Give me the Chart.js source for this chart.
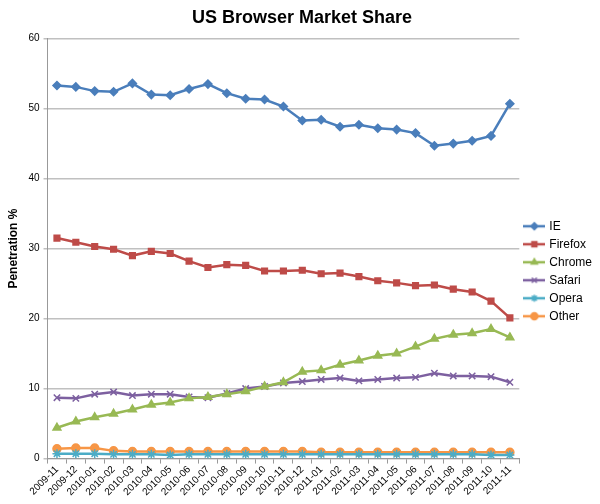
<!DOCTYPE html>
<html>
<head>
<meta charset="utf-8">
<script src="https://cdn.jsdelivr.net/npm/chart.js@4"></script>
<style>
  html, body { margin: 0; padding: 0; background: #fff; }
  #wrap { width: 600px; height: 504px; }
</style>
</head>
<body>
<div id="wrap"><canvas id="browserChart" width="600" height="504"></canvas></div>
<script>
// month labels
const months = ['2009-11', '2009-12', '2010-01', '2010-02', '2010-03', '2010-04', '2010-05', '2010-06',
    '2010-07', '2010-08', '2010-09', '2010-10', '2010-11', '2010-12', '2011-01', '2011-02', '2011-03',
    '2011-04', '2011-05', '2011-06', '2011-07', '2011-08', '2011-09', '2011-10', '2011-11'];

// share per browser (%)
const ieData = [53.3, 53.1, 52.5, 52.4, 53.6, 52.0, 51.9, 52.8, 53.5, 52.2, 51.4, 51.3, 50.3,
    48.3, 48.4, 47.4, 47.7, 47.2, 47.0, 46.5, 44.7, 45.0, 45.4, 46.1, 50.7];
const firefoxData = [31.5, 30.9, 30.3, 29.9, 29.0, 29.6, 29.3, 28.2, 27.3, 27.7, 27.6, 26.8, 26.8,
    26.9, 26.4, 26.5, 26.0, 25.4, 25.1, 24.7, 24.8, 24.2, 23.8, 22.5, 20.1];
const chromeData = [4.4, 5.3, 5.9, 6.4, 7.0, 7.7, 8.0, 8.6, 8.8, 9.2, 9.6, 10.3, 10.9,
    12.4, 12.6, 13.4, 14.0, 14.7, 15.0, 16.0, 17.1, 17.7, 17.9, 18.5, 17.3];
const safariData = [8.7, 8.6, 9.2, 9.5, 9.0, 9.2, 9.2, 8.8, 8.7, 9.3, 10.0, 10.3, 10.8,
    11.0, 11.3, 11.5, 11.1, 11.3, 11.5, 11.6, 12.2, 11.8, 11.8, 11.7, 10.9];
const operaData = [0.7, 0.7, 0.7, 0.6, 0.6, 0.6, 0.5, 0.6, 0.6, 0.6, 0.6, 0.6, 0.6,
    0.6, 0.6, 0.6, 0.6, 0.6, 0.6, 0.6, 0.6, 0.6, 0.6, 0.5, 0.5];
const otherData = [1.4, 1.5, 1.5, 1.1, 1.0, 1.0, 1.0, 1.0, 1.0, 1.0, 1.0, 1.0, 1.0,
    1.0, 0.9, 0.9, 0.9, 0.9, 0.9, 0.9, 0.9, 0.9, 0.9, 0.9, 0.9];

const yTicks = [0, 10, 20, 30, 40, 50, 60];

function series(label, data, color, style, radius) {
    return {
        label: label,
        data: data,
        borderColor: color,
        backgroundColor: color,
        pointBackgroundColor: color,
        pointBorderColor: color,
        pointStyle: style,
        pointRadius: radius,
        pointBorderWidth: 1.5,
        borderWidth: 2.5,
        fill: false,
        tension: 0
    };
}

// little line-with-marker images for the legend
function legendIcon(color, style, radius) {
    const c = document.createElement('canvas');
    c.width = 22;
    c.height = 12;
    const g = c.getContext('2d');
    g.strokeStyle = color;
    g.fillStyle = color;
    g.lineWidth = 2.5;
    g.beginPath();
    g.moveTo(0, 6);
    g.lineTo(22, 6);
    g.stroke();
    g.lineWidth = 1.5;
    Chart.helpers.drawPoint(g, { pointStyle: style, radius: radius, borderWidth: 1.5 }, 11, 6);
    return c;
}

const datasets = [
    series('IE', ieData, '#4a7ebb', 'rectRot', 4),
    series('Firefox', firefoxData, '#be4b48', 'rect', 4),
    series('Chrome', chromeData, '#98b954', 'triangle', 4.5),
    series('Safari', safariData, '#7d60a0', 'crossRot', 4.5),
    series('Opera', operaData, '#4bacc6', 'star', 4.5),
    series('Other', otherData, '#f79646', 'circle', 4)
];

const ctx = document.getElementById('browserChart').getContext('2d');
new Chart(ctx, {
    type: 'line',
    data: {
        labels: months,
        datasets: datasets
    },
    options: {
        responsive: false,
        animation: false,
        layout: { padding: { left: 2, right: -2, top: 0, bottom: 6 } },
        plugins: {
            title: {
                display: true,
                text: 'US Browser Market Share',
                font: { family: 'Liberation Sans, Arial', size: 18, weight: 'bold' },
                color: '#000',
                padding: { top: 7, bottom: 10 }
            },
            legend: {
                position: 'right',
                title: {
                    display: true,
                    text: '',
                    font: { size: 12 },
                    padding: { top: 15, bottom: 15 }
                },
                labels: {
                    font: { family: 'Liberation Sans, Arial', size: 12 },
                    color: '#000',
                    usePointStyle: true,
                    pointStyleWidth: 18,
                    padding: 6,
                    generateLabels: function (chart) {
                        return chart.data.datasets.map(function (ds, i) {
                            return {
                                text: ds.label,
                                fontColor: '#000',
                                fillStyle: ds.borderColor,
                                strokeStyle: ds.borderColor,
                                pointStyle: legendIcon(ds.borderColor, ds.pointStyle, 3.5),
                                datasetIndex: i,
                                hidden: false,
                                lineWidth: 0
                            };
                        });
                    }
                }
            },
            tooltip: { enabled: false }
        },
        scales: {
            x: {
                offset: true,
                grid: {
                    display: true,
                    offset: true,
                    drawOnChartArea: false,
                    drawTicks: true,
                    tickLength: 5,
                    color: '#999'
                },
                border: { color: '#999' },
                ticks: {
                    autoSkip: false,
                    maxRotation: 45,
                    minRotation: 45,
                    padding: 0,
                    font: { family: 'Liberation Sans, Arial', size: 10 },
                    color: '#000'
                }
            },
            y: {
                min: 0,
                max: 60,
                afterBuildTicks: function (axis) {
                    axis.ticks = yTicks.map(function (v) { return { value: v }; });
                },
                title: {
                    display: true,
                    text: 'Penetration %',
                    font: { family: 'Liberation Sans, Arial', size: 12, weight: 'bold' },
                    color: '#000'
                },
                grid: {
                    color: '#c0c0c0',
                    lineWidth: 1.5,
                    drawTicks: true,
                    tickLength: 4
                },
                border: { color: '#999' },
                ticks: {
                    font: { family: 'Liberation Sans, Arial', size: 10 },
                    color: '#000',
                    padding: 4
                }
            }
        }
    }
});
</script>
</body>
</html>
